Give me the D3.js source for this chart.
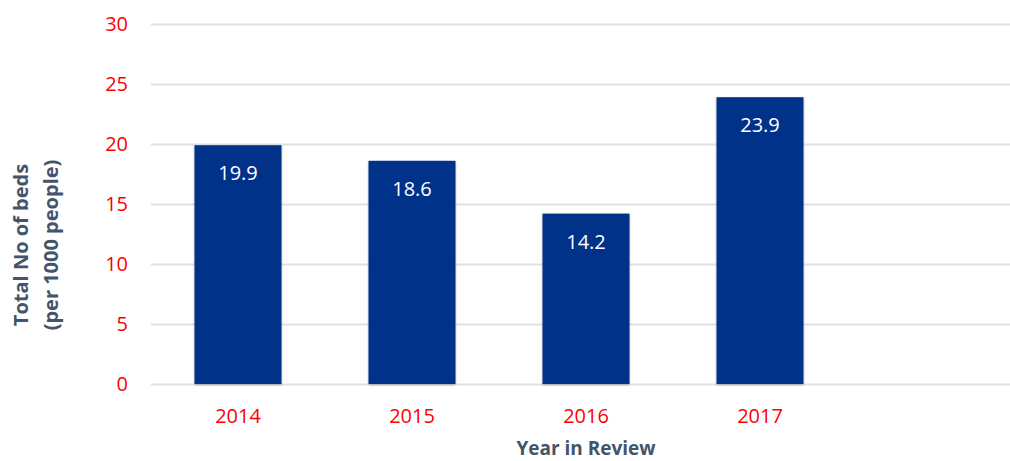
<!DOCTYPE html>
<html>
<head>
<meta charset="UTF-8">
<script src="https://cdn.jsdelivr.net/npm/d3@7"></script>
<style>
body{
    margin:0;
    background-color:#fff;
    font-family: "Open Sans", "Noto Sans", sans-serif;
}
.grid line{
    stroke:#dde1e8;
    stroke-width:1.8;
}
.grid path{
    display:none;
}
</style>
</head>
<body>
<script>

var years = ["2014", "2015", "2016", "2017"];
var beds = [19.9, 18.6, 14.2, 23.9];
var yTicks = [0, 5, 10, 15, 20, 25, 30];

var width = 1010,
    height = 461,
    plotLeft = 151,
    plotTop = 24,
    plotBottom = 384;

// 5 slots wide, the last one stays empty like in the source chart
var step = 174;

var x = d3.scaleBand()
    .domain(years)
    .range([plotLeft, plotLeft + step * years.length])
    .paddingInner(0.5)
    .paddingOuter(0.25);

var y = d3.scaleLinear().domain([0, 30]).range([plotBottom, plotTop]);

var svg = d3.select("body").append("svg")
    .attr("width", width)
    .attr("height", height);

var defs = svg.append("defs");
var shadow = defs.append("filter").attr("id", "shadow")
    .attr("x", "-10%").attr("y", "-10%").attr("width", "120%").attr("height", "120%");
shadow.append("feDropShadow")
    .attr("dx", 0).attr("dy", 1).attr("stdDeviation", 1.2)
    .attr("flood-color", "#000").attr("flood-opacity", 0.3);

// gridlines
svg.append("g")
    .attr("class", "grid")
    .attr("transform", "translate(" + plotLeft + ",0)")
    .call(d3.axisRight(y).tickValues(yTicks).tickSize(width - plotLeft).tickFormat(""));

// y tick labels
svg.append("g")
    .selectAll("text")
    .data(yTicks)
    .enter().append("text")
    .attr("x", 128)
    .attr("y", function(d){ return y(d); })
    .attr("dy", "0.35em")
    .attr("text-anchor", "end")
    .attr("font-size", 20)
    .attr("fill", "#ff0000")
    .text(function(d){ return d; });

var data = years.map(function(d, i){ return {year: d, value: beds[i]}; });

svg.selectAll(".bar")
    .data(data)
    .enter().append("rect")
    .attr("class", "bar")
    .attr("x", function(d){ return x(d.year); })
    .attr("y", function(d){ return y(d.value); })
    .attr("width", x.bandwidth())
    .attr("height", function(d){ return plotBottom - y(d.value); })
    .attr("fill", "#00318a")
    .attr("filter", "url(#shadow)");

svg.selectAll(".val")
    .data(data)
    .enter().append("text")
    .attr("x", function(d){ return x(d.year) + x.bandwidth() / 2; })
    .attr("y", function(d){ return y(d.value) + 35; })
    .attr("text-anchor", "middle")
    .attr("font-size", 20)
    .attr("fill", "#fff")
    .text(function(d){ return d.value.toFixed(1); });

// x tick labels
svg.selectAll(".xlab")
    .data(years)
    .enter().append("text")
    .attr("x", function(d){ return x(d) + x.bandwidth() / 2; })
    .attr("y", 423)
    .attr("text-anchor", "middle")
    .attr("font-size", 20)
    .attr("fill", "#ff0000")
    .text(function(d){ return d; });

svg.append("text")
    .attr("x", plotLeft + step * 5 / 2)
    .attr("y", 455)
    .attr("text-anchor", "middle")
    .attr("font-size", 19)
    .attr("font-weight", "bold")
    .attr("fill", "#44546a")
    .text("Year in Review");

var yTitle = svg.append("text")
    .attr("transform", "translate(28,245) rotate(-90)")
    .attr("text-anchor", "middle")
    .attr("font-size", 20)
    .attr("font-weight", "bold")
    .attr("fill", "#44546a");
yTitle.append("tspan").attr("x", 0).attr("dy", 0).text("Total No of beds");
yTitle.append("tspan").attr("x", 0).attr("dy", 30).text("(per 1000 people)");

</script>
</body>
</html>
